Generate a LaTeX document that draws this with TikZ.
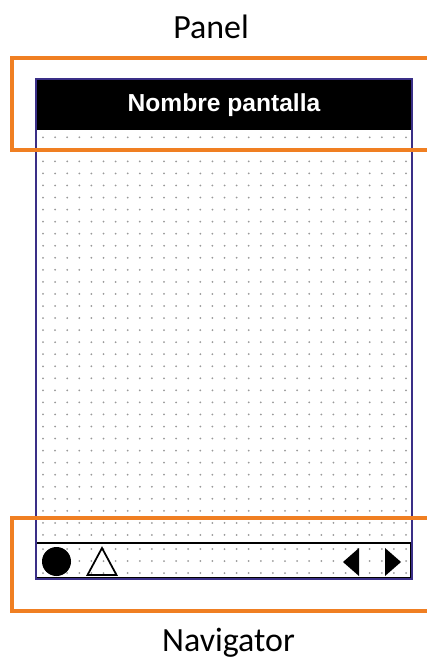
\documentclass[tikz,border=0pt]{standalone}
\usepackage{fontspec}
\setmainfont{Carlito}
\newfontfamily\screenfont{Liberation Sans}
\definecolor{callout}{HTML}{F07F22}
\definecolor{framecol}{HTML}{3A2F87}

\begin{document}
\begin{tikzpicture}[x=0.02cm,y=-0.02cm]
  \useasboundingbox (0,0) rectangle (426,658);
  % Screen background with the dot grid.
  \fill[white] (36,79) rectangle (412,579);
  \foreach \i in {0,...,30} {
    \foreach \j in {0,...,33}
      \fill[gray!80] (43+12.1*\i,137.3+12.05*\j) circle (1);
    \foreach \j in {549,561,573}
      \fill[gray!80] (43+12.1*\i,\j) circle (1);
  }
  % Title bar.
  \fill[black] (36,79) rectangle (412,130);
  \node[anchor=base,text=white,font=\screenfont\bfseries\fontsize{14}{16}\selectfont]
    (title) at (224,112) {Nombre pantalla};
  % Navigation bar and its buttons.
  \draw[black,line width=1pt] (36,543) rectangle (411,578);
  \fill (56.5,561.5) circle (14.5);
  \draw[line width=1pt] (87.5,575) -- (102,548) -- (116.5,575) -- cycle;
  \fill (343,562) -- (359,548) -- (359,576) -- cycle;
  \fill (401,562) -- (385,548) -- (385,576) -- cycle;
  % Device frame.
  \draw[framecol,line width=1.1pt] (36,79) rectangle (412,579);
  % Orange callouts, cut by the right edge.
  \draw[callout,line width=2.2pt] (440,58) -- (12,58) -- (12,150) -- (440,150);
  \draw[callout,line width=2.2pt] (440,518) -- (12,518) -- (12,611) -- (440,611);
  \node[anchor=base,font=\fontsize{19.3}{22}\selectfont] (panel) at (211,39) {Panel};
  \node[anchor=base,font=\fontsize{19.3}{22}\selectfont] (nav) at (228.5,651) {Navigator};
\end{tikzpicture}
\end{document}
